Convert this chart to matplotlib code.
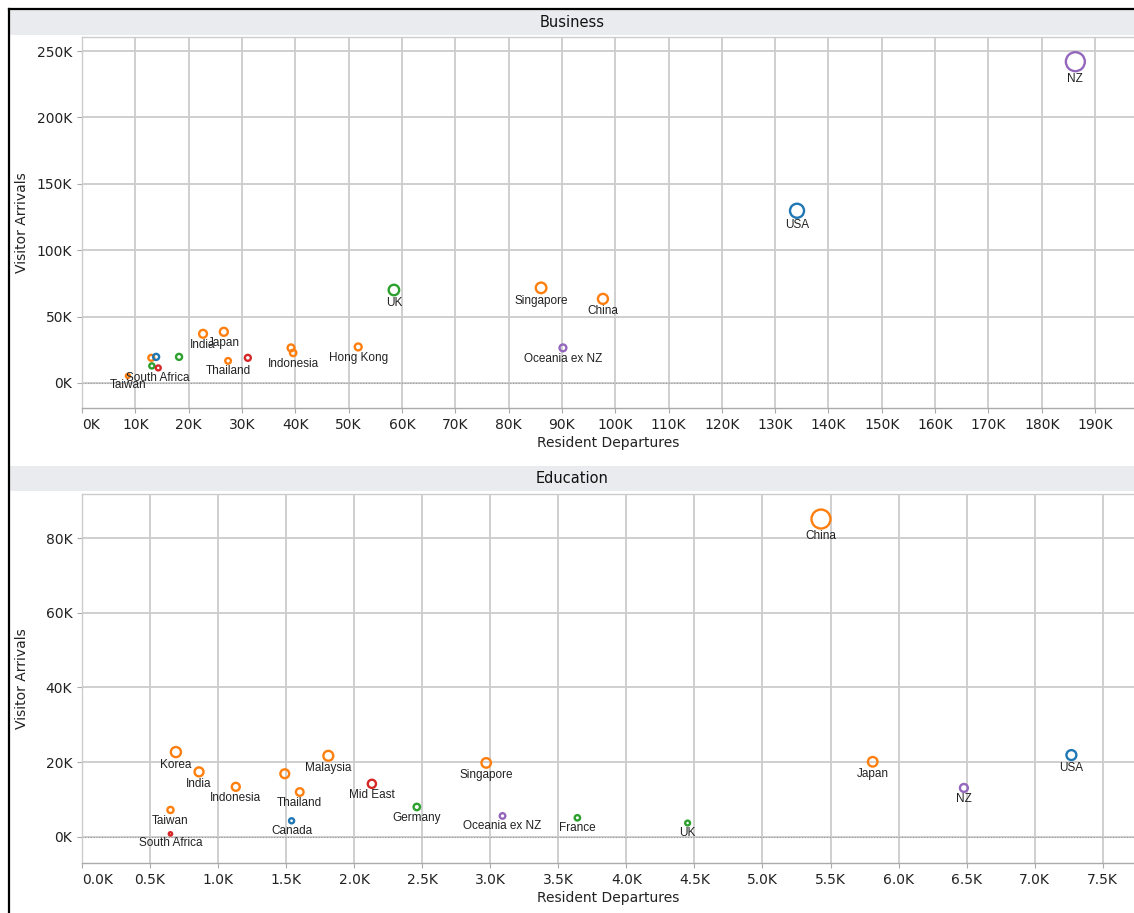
import numpy as np
import matplotlib
matplotlib.use("Agg")
import matplotlib.pyplot as plt
from matplotlib.patches import Rectangle
from matplotlib.lines import Line2D

W, H = 1134, 913

REGION_COLOURS = {
    "Asia": "#ff7f0e",
    "Americas": "#1f77b4",
    "Europe": "#2ca02c",
    "MidEast/Africa": "#d62728",
    "Oceania": "#9467bd",
}

# Business travel (thousands)
biz_country = ["NZ", "USA", "UK", "Singapore", "China", "Oceania ex NZ",
               "Hong Kong", "Malaysia", "Indonesia", "Japan", "India",
               "Thailand", "Mid East", "Germany", "Korea", "Canada",
               "France", "South Africa", "Taiwan"]
biz_region = ["Oceania", "Americas", "Europe", "Asia", "Asia", "Oceania",
              "Asia", "Asia", "Asia", "Asia", "Asia",
              "Asia", "MidEast/Africa", "Europe", "Asia", "Americas",
              "Europe", "MidEast/Africa", "Asia"]
biz_departures = [186.3, 134.1, 58.5, 86.1, 97.7, 90.2,
                  51.8, 39.2, 39.6, 26.6, 22.7,
                  27.4, 31.1, 18.2, 13.0, 13.9,
                  13.1, 14.3, 8.6]
biz_arrivals = [242.0, 129.7, 70.0, 71.6, 63.3, 26.4,
                27.1, 26.4, 22.6, 38.5, 37.0,
                16.6, 18.9, 19.6, 18.9, 19.6,
                12.8, 11.3, 5.3]
biz_hidden = ["Malaysia", "Mid East", "Germany", "Korea", "Canada", "France"]

# Education travel (thousands)
edu_country = ["China", "Japan", "USA", "NZ", "UK", "France",
               "Oceania ex NZ", "Singapore", "Germany", "Mid East",
               "Malaysia", "Hong Kong", "Thailand", "Canada", "Indonesia",
               "Korea", "India", "Taiwan", "South Africa"]
edu_region = ["Asia", "Asia", "Americas", "Oceania", "Europe", "Europe",
              "Oceania", "Asia", "Europe", "MidEast/Africa",
              "Asia", "Asia", "Asia", "Americas", "Asia",
              "Asia", "Asia", "Asia", "MidEast/Africa"]
edu_departures = [5.43, 5.81, 7.27, 6.48, 4.45, 3.64,
                  3.09, 2.97, 2.46, 2.13,
                  1.81, 1.49, 1.60, 1.54, 1.13,
                  0.69, 0.86, 0.65, 0.65]
edu_arrivals = [85.1, 20.1, 21.9, 13.1, 3.7, 5.1,
                5.6, 19.8, 8.0, 14.2,
                21.7, 16.9, 12.0, 4.3, 13.4,
                22.7, 17.4, 7.2, 0.8]
edu_hidden = ["Hong Kong"]

GRID = "#cccccc"
AXIS = "#aaaaaa"


def px_axes(fig, left, top, right, bottom):
    return fig.add_axes([left / W, 1 - bottom / H,
                         (right - left) / W, (bottom - top) / H])


def header(fig, top, bottom, title):
    fig.add_artist(Rectangle((10 / W, 1 - bottom / H), (W - 10) / W,
                             (bottom - top) / H, transform=fig.transFigure,
                             facecolor="#eaebee", edgecolor="none"))
    fig.text(572 / W, 1 - (top + bottom) / 2 / H, title, ha="center",
             va="center", fontsize=10.5, color="#111111")


def panel(ax, names, regions, xs, ys, hidden, xticks, xfmt, yticks,
          xlim, ylim, height_px):
    ys_arr = np.array(ys)
    r_px = np.sqrt(2.0 + 88 * ys_arr / ys_arr.max())
    sizes = (2 * r_px * 0.72) ** 2
    cols = [REGION_COLOURS[r] for r in regions]
    ax.axhline(0, color="#999999", lw=0.8, ls=(0, (1, 1.5)), zorder=1)
    ax.scatter(xs, ys, s=sizes, facecolors="none", edgecolors=cols,
               linewidths=1.7, zorder=3)
    for name, x, y, r in zip(names, xs, ys, r_px):
        if name in hidden:
            continue
        ax.annotate(name, (x, y), xytext=(0, -(r + 7.5) * 0.72),
                    textcoords="offset points", ha="center", va="center",
                    fontsize=8.5, family="Liberation Sans", color="#222222",
                    zorder=4)

    ax.set_xlim(*xlim)
    ax.set_ylim(*ylim)
    ax.set_xticks(xticks)
    ax.set_xticklabels([xfmt.format(v) for v in xticks])
    ax.get_xticklabels()[0].set_ha("left")
    ax.set_yticks(yticks)
    ax.set_yticklabels([f"{v:.0f}K" for v in yticks])
    ax.grid(True, color=GRID, lw=1.3, zorder=0)
    ax.set_axisbelow(True)
    for side in ("left", "top", "bottom"):
        ax.spines[side].set_linewidth(1.0)
    ax.spines["bottom"].set_color(AXIS)
    ax.spines["top"].set_color(GRID)
    ax.spines["left"].set_color(GRID)
    ax.spines["right"].set_visible(False)
    ax.tick_params(direction="out", length=3.6, width=0.8, color=AXIS,
                   labelsize=10, labelcolor="#222222", pad=3.5)
    ax.set_xlabel("Resident Departures", fontsize=10, color="#222222")
    ax.set_ylabel("Visitor Arrivals", fontsize=10, color="#222222")
    ax.xaxis.set_label_coords(0.5, -28 / height_px)
    ax.yaxis.set_label_coords(-53 / (W - 82), 0.5)


fig = plt.figure(figsize=(W / 100, H / 100), dpi=100)

fig.add_artist(Line2D([9 / W, 9 / W], [0, 1 - 9 / H], color="black",
                      lw=1.6, transform=fig.transFigure))
fig.add_artist(Line2D([9 / W, 1], [1 - 9 / H, 1 - 9 / H], color="black",
                      lw=1.6, transform=fig.transFigure))

header(fig, 10, 35, "Business")
ax1 = px_axes(fig, 82, 37, W, 408)
panel(ax1, biz_country, biz_region, biz_departures, biz_arrivals, biz_hidden,
      list(range(0, 200, 10)), "{:.0f}K", list(range(0, 251, 50)),
      (0, 197.3), (-18.9, 260.6), 408 - 37)

header(fig, 466, 491, "Education")
ax2 = px_axes(fig, 82, 494, W, 863)
panel(ax2, edu_country, edu_region, edu_departures, edu_arrivals, edu_hidden,
      [v * 0.5 for v in range(16)], "{:.1f}K", list(range(0, 81, 20)),
      (0, 7.73), (-7.0, 91.8), 863 - 494)

fig.savefig("out.png", dpi=100)
